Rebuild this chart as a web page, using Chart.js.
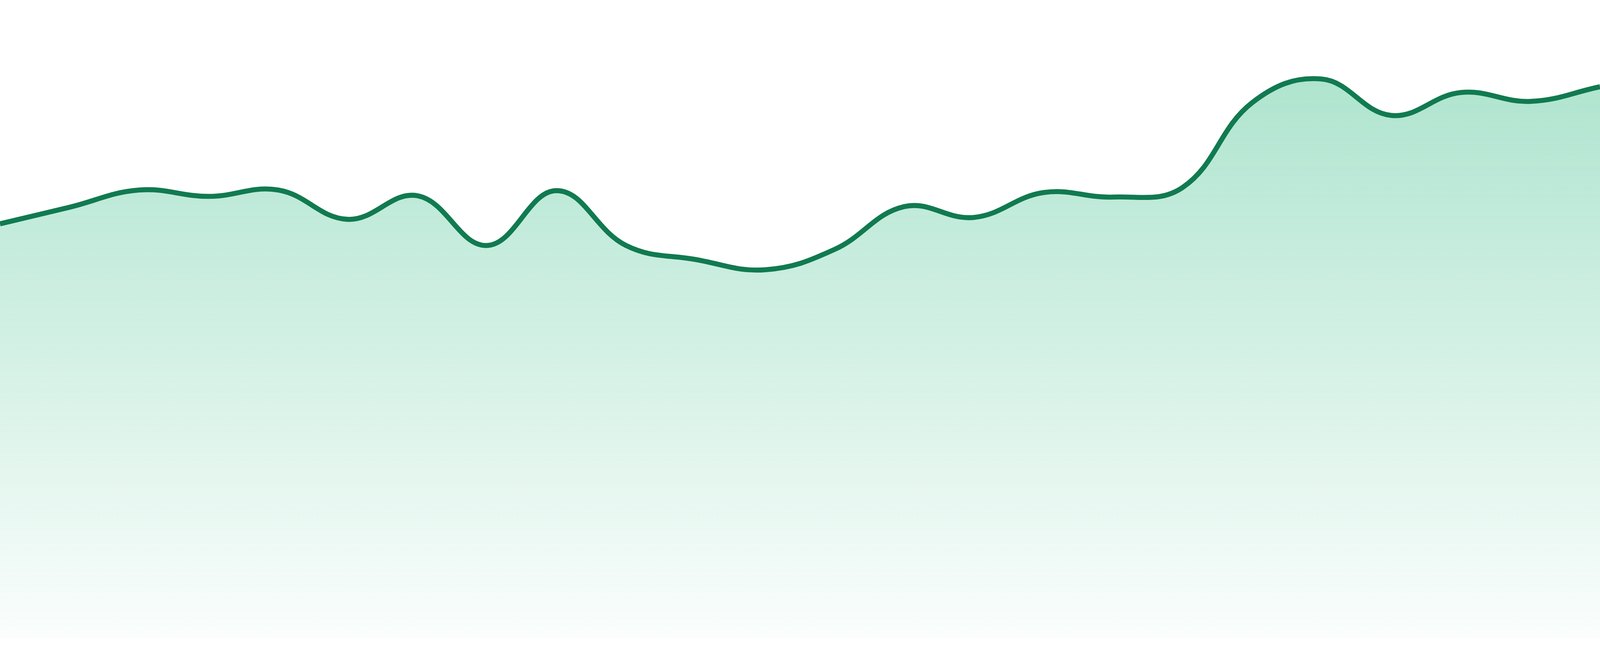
<!DOCTYPE html>
<html>
<head>
<meta charset="utf-8">
<title>Area trend</title>
<script src="https://cdn.jsdelivr.net/npm/chart.js@4/dist/chart.umd.min.js"></script>
<style>
  html, body { margin: 0; padding: 0; background: #ffffff; overflow: hidden; }
  /* plot area ends a little above the bottom edge (1633 of 1680) */
  #wrap { width: 100vw; height: calc(100vh * 1633 / 1680); position: relative; }
  #trend { display: block; }
</style>
</head>
<body>
<div id="wrap"><canvas id="trend"></canvas></div>
<script>
  // values, 24 evenly spaced samples
  const labels = [
    'D1', 'D2', 'D3', 'D4', 'D5', 'D6', 'D7', 'D8', 'D9', 'D10', 'D11', 'D12',
    'D13', 'D14', 'D15', 'D16', 'D17', 'D18', 'D19', 'D20', 'D21', 'D22', 'D23', 'D24',
  ];
  const values = [
    64.9, 67.5, 70.2, 69.2, 70.2, 65.6, 69.3, 61.5, 70.1, 61.5, 59.3, 57.7,
    60.9, 67.6, 65.9, 69.8, 69.1, 70.6, 83.9, 87.6, 81.9, 85.5, 84.1, 86.4,
  ];
  const yMin = 0;
  const yMax = 100;

  const LINE = '#117a50';
  // line is ~15px wide on the 4800px picture
  const lineWidth = 15 * (window.innerWidth / 4800);

  function areaGradient(context) {
    const { chart } = context;
    const area = chart.chartArea;
    if (!area) return 'rgba(16,176,112,0.2)';
    const g = chart.ctx.createLinearGradient(0, area.top, 0, area.bottom);
    g.addColorStop(0, 'rgba(16,176,112,0.38)');
    g.addColorStop(1, 'rgba(16,176,112,0.02)');
    return g;
  }

  new Chart(document.getElementById('trend'), {
    type: 'line',
    data: {
      labels,
      datasets: [{
        data: values,
        borderColor: LINE,
        borderWidth: lineWidth,
        backgroundColor: areaGradient,
        fill: 'start',
        tension: 0.4,
        pointRadius: 0,
        pointHoverRadius: 0,
      }],
    },
    options: {
      responsive: true,
      maintainAspectRatio: false,
      animation: false,
      layout: { padding: 0 },
      plugins: { legend: { display: false }, tooltip: { enabled: false } },
      scales: {
        x: { display: false, offset: false },
        y: { display: false, min: yMin, max: yMax },
      },
    },
  });
</script>
</body>
</html>
